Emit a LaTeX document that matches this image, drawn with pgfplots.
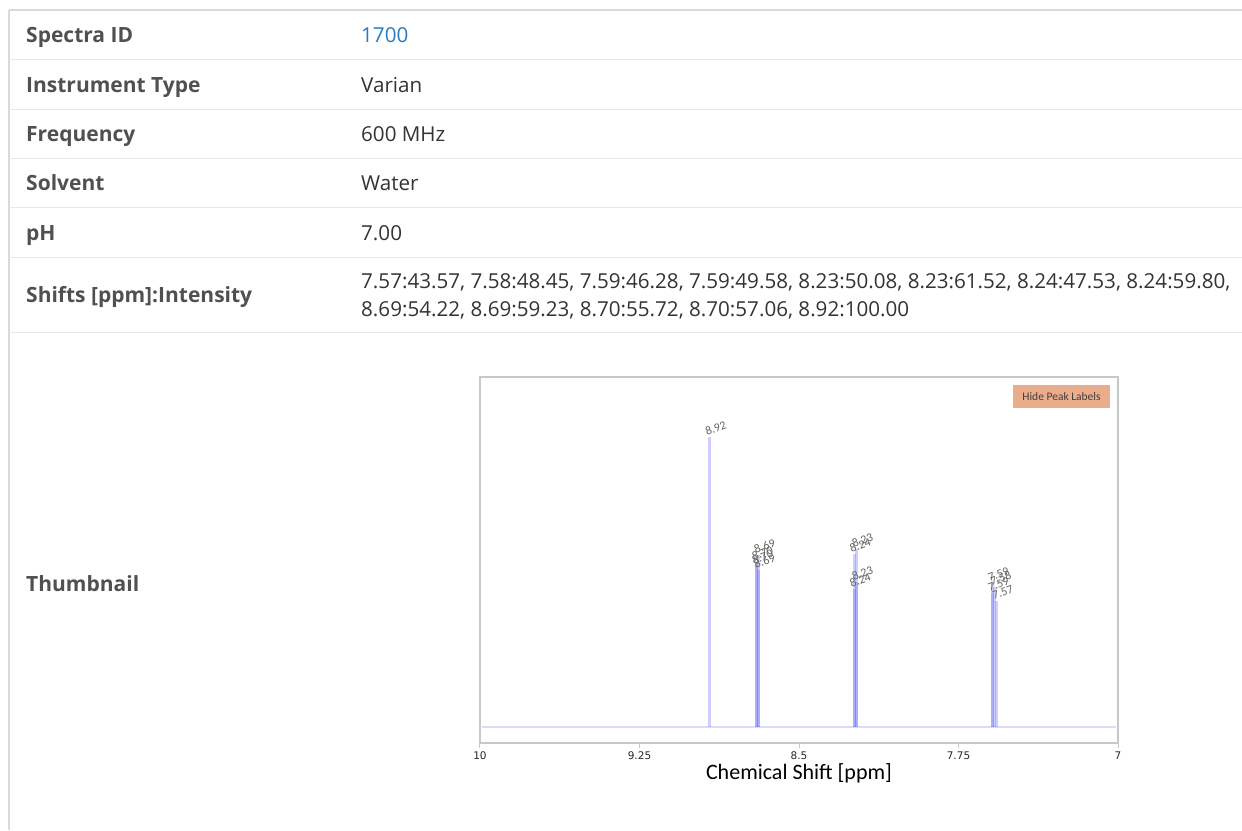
\documentclass[border=0pt]{standalone}
\usepackage{pgfplots}
\pgfplotsset{compat=1.18}
\usepackage{fontspec}
\setmainfont{Open Sans}
\newfontfamily\carlito{Carlito}
\newfontfamily\dejavu{DejaVu Sans}
\definecolor{lbl}{RGB}{80,80,80}
\definecolor{val}{RGB}{51,51,51}
\definecolor{idblue}{RGB}{42,122,190}
\definecolor{sep}{RGB}{232,232,232}
\definecolor{edge}{RGB}{218,218,218}
\definecolor{framec}{RGB}{200,200,200}
\definecolor{peak}{RGB}{95,95,255}
\definecolor{basec}{RGB}{218,218,255}
\definecolor{btn}{RGB}{235,172,140}
\definecolor{plbl}{RGB}{100,100,100}
\pgfplotsset{peakline/.style={ycomb, peak, draw opacity=0.3, line width=3pt,
  nodes near coords, point meta=explicit symbolic,
  every node near coord/.style={anchor=south west, rotate=20, inner sep=0.5pt, xshift=-4pt,
    font=\carlito\fontsize{12}{13}\selectfont, text=plbl, text opacity=1}}}
\begin{document}
\begin{tikzpicture}[x=1pt,y=1pt]
\useasboundingbox (0,0) rectangle (1242,830);
\draw[edge, line width=1.5pt] (9,820) -- (1242,820);
\draw[edge, line width=1.5pt] (9,820) -- (9,0);
\foreach \yy in {770,720,671,622,572,497} \draw[sep, line width=1pt] (9,\yy) -- (1242,\yy);
\tikzset{lab/.style={anchor=base west, inner sep=0pt, text=lbl, font=\bfseries\fontsize{21}{24}\selectfont},
         val/.style={anchor=base west, inner sep=0pt, text=val, font=\fontsize{20.6}{24}\selectfont}}
\node[lab] at (26,787) {Spectra ID};
\node[lab] at (26,737) {Instrument Type};
\node[lab] at (26,688) {Frequency};
\node[lab] at (26,639) {Solvent};
\node[lab] at (26,589) {pH};
\node[lab] at (26,527) {Shifts [ppm]:Intensity};
\node[lab] at (26,238) {Thumbnail};
\node[val, text=idblue] at (361,787) {1700};
\node[val] at (361,737) {Varian};
\node[val] at (361,688) {600 MHz};
\node[val] at (361,639) {Water};
\node[val] at (361,589) {7.00};
\node[val] at (361,541) {7.57:43.57, 7.58:48.45, 7.59:46.28, 7.59:49.58, 8.23:50.08, 8.23:61.52, 8.24:47.53, 8.24:59.80,};
\node[val] at (361,513) {8.69:54.22, 8.69:59.23, 8.70:55.72, 8.70:57.06, 8.92:100.00};
\begin{axis}[at={(480pt,87pt)}, anchor=south west, scale only axis,
  width=638pt, height=366pt, xmin=7, xmax=10, x dir=reverse,
  ymin=-5.5, ymax=120.7, clip=false,
  axis line style={framec, line width=2pt},
  ytick=\empty, xtick={7,7.75,8.5,9.25,10}, xticklabels={7,7.75,8.5,9.25,10},
  xtick pos=bottom, xtick align=outside, major tick length=5pt,
  tick style={framec, line width=1pt},
  xticklabel style={font=\dejavu\fontsize{10.5}{12}\selectfont, text=black!85},
  xlabel={Chemical Shift [ppm]},
  xlabel style={font=\carlito\fontsize{22}{26}\selectfont, text=black, yshift=3pt}]
\addplot[basec, line width=2pt] coordinates {(9.99,0) (7.01,0)};
\addplot[peakline] coordinates {(7.57,43.57) [7.57]};
\addplot[peakline] coordinates {(7.58,48.45) [7.58]};
\addplot[peakline] coordinates {(7.59,46.28) [7.59]};
\addplot[peakline] coordinates {(7.59,49.58) [7.59]};
\addplot[peakline] coordinates {(8.23,50.08) [8.23]};
\addplot[peakline] coordinates {(8.23,61.52) [8.23]};
\addplot[peakline] coordinates {(8.24,47.53) [8.24]};
\addplot[peakline] coordinates {(8.24,59.80) [8.24]};
\addplot[peakline] coordinates {(8.69,54.22) [8.69]};
\addplot[peakline] coordinates {(8.69,59.23) [8.69]};
\addplot[peakline] coordinates {(8.70,55.72) [8.70]};
\addplot[peakline] coordinates {(8.70,57.06) [8.70]};
\addplot[peakline] coordinates {(8.92,100.00) [8.92]};
\end{axis}
\fill[btn] (1013,445) rectangle (1110,422);
\node[font=\carlito\fontsize{11.5}{13}\selectfont, text=black!75] at (1061.5,433.5) {Hide Peak Labels};
\end{tikzpicture}
\end{document}
